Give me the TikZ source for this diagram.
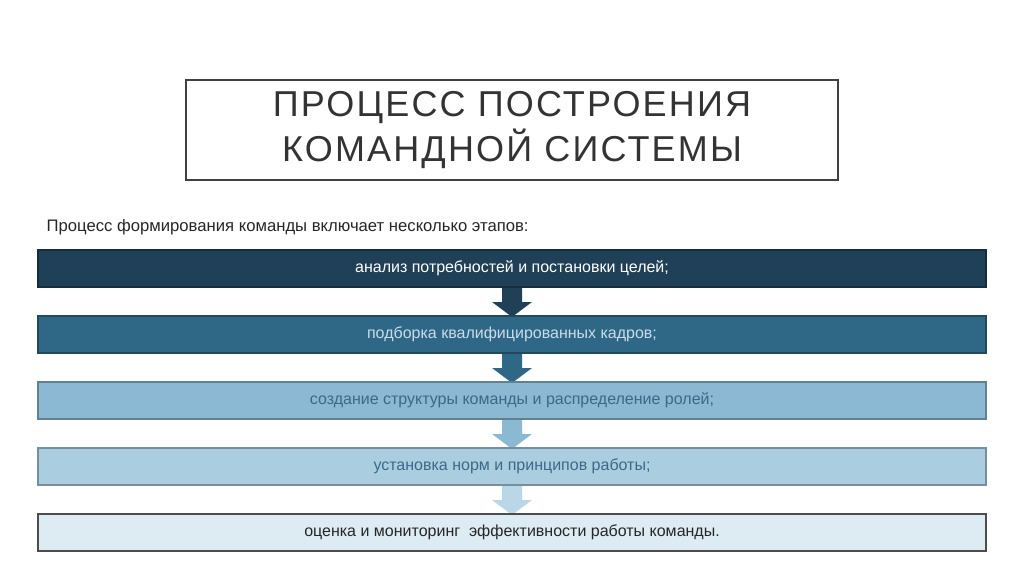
\documentclass[tikz,border=0pt]{standalone}
\usepackage{fontspec}
\setmainfont{Liberation Sans}
\definecolor{c1}{HTML}{1F4057}
\definecolor{c2}{HTML}{2F6787}
\definecolor{c3}{HTML}{8BB8D2}
\definecolor{c4}{HTML}{AACDE0}
\definecolor{c5}{HTML}{DDEBF3}
\definecolor{a4}{HTML}{BAD7E7}
\definecolor{t2}{HTML}{C9DCE8}
\definecolor{t3}{HTML}{3A6A8A}
\begin{document}
\begin{tikzpicture}[x=0.75pt,y=-0.75pt,
  stage/.style={draw=#1!70!black,line width=0.8pt,fill=#1,minimum width=948*0.75pt,minimum height=37*0.75pt,inner sep=0pt,font=\fontsize{12}{14}\selectfont},
  downarrow/.style={fill=#1,draw=none}]
\useasboundingbox (0,0) rectangle (1024,574);
\node[draw=black!75,line width=1.5pt,minimum width=652*0.75pt,minimum height=100*0.75pt,align=center,
  text=black!80,font=\fontsize{27}{34}\selectfont\addfontfeature{LetterSpace=6}] (title) at (512,130)
  {ПРОЦЕСС ПОСТРОЕНИЯ\\КОМАНДНОЙ СИСТЕМЫ};
\node[anchor=west,font=\fontsize{12.5}{15}\selectfont,text=black!85] (sub) at (42,227)
  {Процесс формирования команды включает несколько этапов:};
\foreach \i/\y in {1/268.5,2/334.5,3/400.5,4/466.5}{
  \pgfmathtruncatemacro{\j}{\i+1}
  \pgfmathsetmacro{\top}{\y+18.5}
  \fill[\ifcase\i\or c1\or c2\or c3\or a4\fi] (502,\top) rectangle (522,\top+15) -- (532,\top+15) -- (512,\top+30) -- (492,\top+15) -- cycle;
}
\node[stage=c1,text=white] (s1) at (512,268.5) {анализ потребностей и постановки целей;};
\node[stage=c2,text=t2] (s2) at (512,334.5) {подборка квалифицированных кадров;};
\node[stage=c3,text=t3] (s3) at (512,400.5) {создание структуры команды и распределение ролей;};
\node[stage=c4,text=t3] (s4) at (512,466.5) {установка норм и принципов работы;};
\node[stage=c5,draw=black!70,text=black!85] (s5) at (512,532.5) {оценка и мониторинг\ \ эффективности работы команды.};
\end{tikzpicture}
\end{document}
